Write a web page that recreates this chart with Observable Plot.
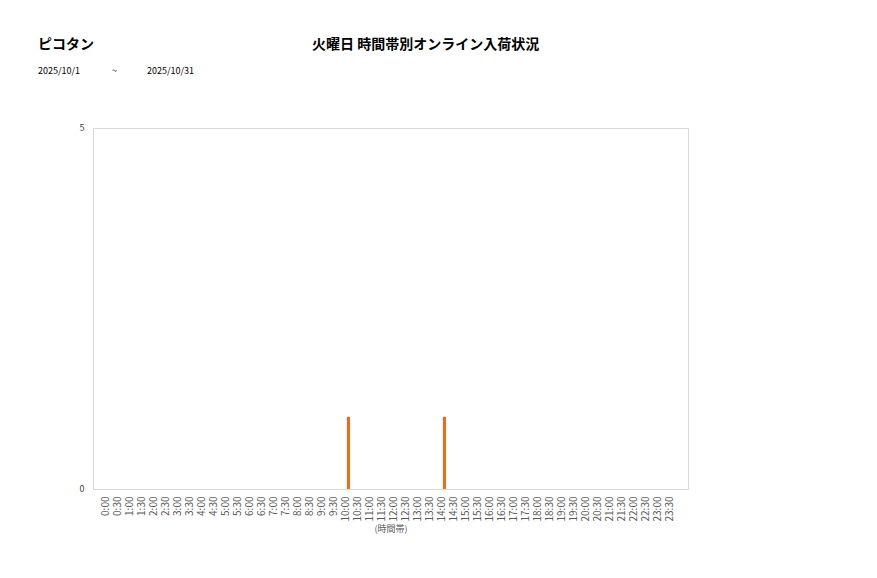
<!DOCTYPE html>
<html><head><meta charset="utf-8">
<script src="https://cdn.jsdelivr.net/npm/d3@7"></script>
<script src="https://cdn.jsdelivr.net/npm/@observablehq/plot@0.6"></script>
<style>
html,body{margin:0;padding:0;background:#fff;}
#wrap{position:relative;width:877px;height:578px;font-family:"Noto Sans CJK JP","Noto Sans",sans-serif;}
.t{position:absolute;white-space:nowrap;color:#000;}
#plot{position:absolute;left:0;top:0;}
</style></head>
<body>
<div id="wrap">
  <div id="plot"></div>
  <div class="t" style="left:38px;top:33px;font-size:14px;font-weight:bold;">ピコタン</div>
  <div class="t" style="left:312px;top:33px;font-size:14px;font-weight:bold;">火曜日 時間帯別オンライン入荷状況</div>
  <div class="t" style="left:38px;top:64px;font-size:9px;">2025/10/1</div>
  <div class="t" style="left:112px;top:64px;font-size:9px;">~</div>
  <div class="t" style="left:147px;top:64px;font-size:9px;">2025/10/31</div>
</div>
<script>
const times = ["0:00","0:30","1:00","1:30","2:00","2:30","3:00","3:30","4:00","4:30","5:00","5:30","6:00","6:30","7:00","7:30","8:00","8:30","9:00","9:30","10:00","10:30","11:00","11:30","12:00","12:30","13:00","13:30","14:00","14:30","15:00","15:30","16:00","16:30","17:00","17:30","18:00","18:30","19:00","19:30","20:00","20:30","21:00","21:30","22:00","22:30","23:00","23:30"];
const counts = [0,0,0,0,0,0,0,0,0,0,0,0,0,0,0,0,0,0,0,0,1,0,0,0,0,0,0,0,1,0,0,0,0,0,0,0,0,0,0,0,0,0,0,0,0,0,0,0];
const yTicks = [0,5];
const data = times.map((t,i)=>({time:t,count:counts[i]}));

const chart = Plot.plot({
  width:877, height:578,
  marginLeft:93, marginRight:189, marginTop:128, marginBottom:89,
  style:{fontFamily:'"Noto Sans CJK JP","Noto Sans",sans-serif', background:"#fff"},
  x:{domain:times, paddingInner:0.76, paddingOuter:0.38, label:null},
  y:{domain:[0,5], ticks:yTicks, label:null},
  marks:[
    Plot.frame({stroke:"#d9d9d9"}),
    Plot.barY(data,{x:"time",y:"count",fill:"#f26b0f"}),
    Plot.axisX({tickRotate:-90, tickSize:0, tickPadding:7, fontSize:10, fill:"#595959", label:null, dx:-3.5}),
    Plot.axisY({ticks:yTicks, tickFormat:"d", tickSize:0, tickPadding:9, fontSize:9, fill:"#404040", label:null}),
    Plot.text(["(時間帯)"],{frameAnchor:"bottom", dy:42, fontSize:9, fill:"#595959", textAnchor:"middle"})
  ]
});
document.getElementById("plot").appendChild(chart);
</script>
</body></html>
